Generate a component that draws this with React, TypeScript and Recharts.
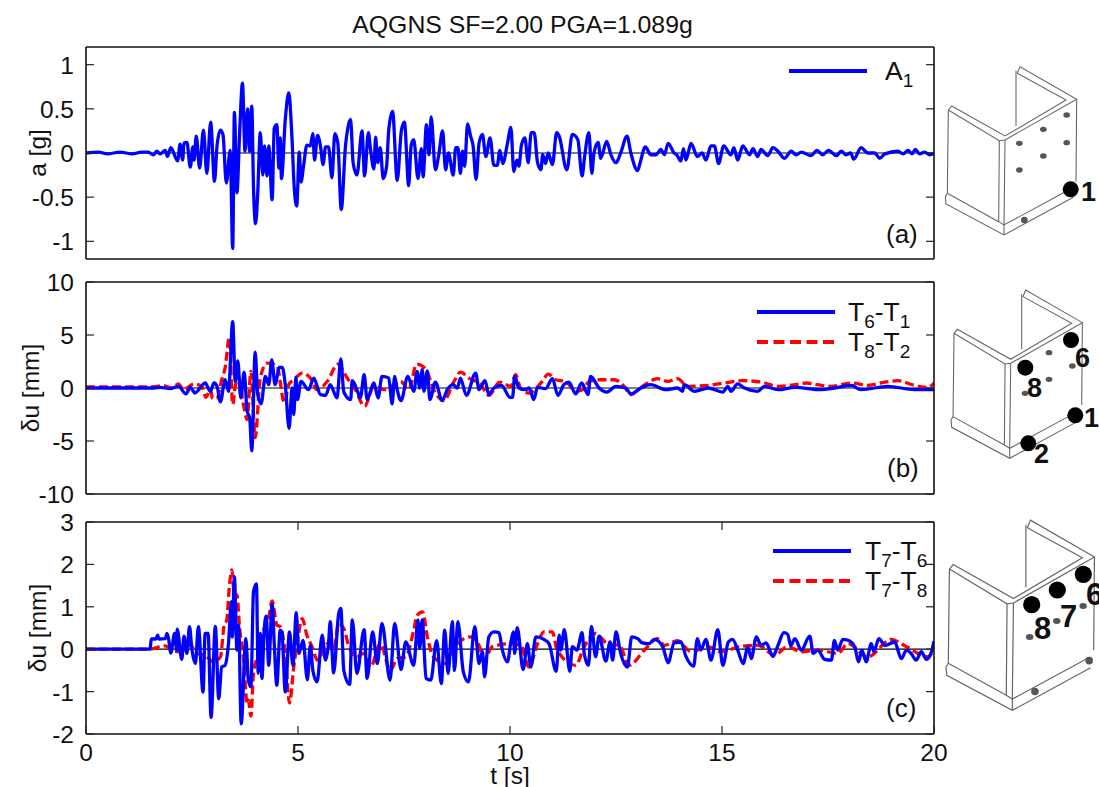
import React from "react";
import { LineChart, Line, XAxis, YAxis, ReferenceLine, Legend } from "recharts";

const timeA1 = [0,0.3,0.5,0.8,1.1,1.3,1.47,1.59,1.67,1.75,1.87,1.92,2.0,2.16,2.22,2.28,2.31,2.38,2.46,2.52,2.55,2.6,2.68,2.77,2.85,2.94,3.03,3.09,3.17,3.23,3.31,3.4,3.46,3.5,3.56,3.62,3.69,3.75,3.81,3.86,3.91,3.95,4.0,4.05,4.11,4.17,4.21,4.27,4.31,4.39,4.44,4.5,4.55,4.58,4.61,4.7,4.78,4.86,4.91,4.97,5.03,5.07,5.13,5.21,5.29,5.35,5.39,5.46,5.53,5.59,5.65,5.72,5.8,5.87,5.94,6.02,6.12,6.17,6.24,6.3,6.39,6.51,6.57,6.66,6.71,6.79,6.83,6.88,6.94,7.01,7.09,7.14,7.23,7.34,7.44,7.51,7.61,7.67,7.73,7.83,7.91,7.95,8.03,8.09,8.14,8.24,8.32,8.41,8.48,8.55,8.66,8.72,8.77,8.83,8.88,8.93,9.0,9.07,9.13,9.2,9.27,9.35,9.43,9.53,9.62,9.7,9.76,9.83,9.94,10.02,10.09,10.16,10.21,10.27,10.35,10.43,10.5,10.57,10.65,10.73,10.77,10.84,10.9,11.0,11.1,11.16,11.34,11.47,11.6,11.7,11.76,11.86,11.93,11.98,12.08,12.14,12.28,12.38,12.5,12.61,12.76,12.85,13.01,13.07,13.19,13.32,13.44,13.56,13.64,13.73,13.87,13.93,14.03,14.09,14.15,14.27,14.42,14.53,14.62,14.74,14.82,14.92,15.04,15.21,15.28,15.37,15.49,15.65,15.73,15.84,15.92,16.08,16.2,16.32,16.47,16.63,16.75,16.87,17.1,17.24,17.38,17.51,17.7,17.81,17.93,18.03,18.11,18.28,18.44,18.6,18.72,18.84,19.15,19.27,19.39,19.48,19.56,19.66,19.78,19.9,20];
const accelA1 = [0,0.01,-0.01,0.01,-0.01,0.01,0.01,-0.02,0.02,-0.01,0.03,-0.04,0.06,-0.09,0.1,-0.08,0.11,0.12,-0.16,0.07,-0.08,0.19,-0.17,0.26,-0.23,0.35,-0.32,0.08,0.26,0.21,-0.34,0.03,-1.08,0.46,-0.45,0.19,0.79,0.02,0.5,0.02,0.53,-0.38,-0.8,-0.45,0.23,-0.25,0.08,-0.26,0.08,-0.53,0.28,0.32,-0.17,0.17,-0.29,0.38,0.68,0.15,-0.38,-0.6,0.01,-0.33,-0.15,0.09,0.08,0.22,-0.08,0.2,0.08,-0.13,0.07,0.07,-0.28,0.22,0.11,-0.64,0.08,0.27,0.38,-0.11,-0.25,0.25,-0.26,0.23,0.04,-0.18,0.18,-0.11,0.06,-0.29,-0.15,0.26,0.47,-0.31,0.26,0.35,-0.37,0.09,0.15,-0.29,0.05,-0.27,0.32,-0.02,0.41,-0.19,-0.02,0.25,-0.19,0,-0.25,0.06,0.06,-0.23,0.02,-0.15,0.33,0.19,0.08,-0.3,0.11,0.21,-0.04,0.17,-0.14,-0.14,0.03,-0.12,0.11,0.29,-0.21,-0.08,-0.15,0.09,0.17,-0.11,0.23,0.23,-0.11,-0.19,-0.02,-0.12,0,-0.13,0.23,0.19,-0.19,0.21,0.15,-0.26,-0.04,0.23,-0.23,0,0.12,-0.06,0.13,-0.02,-0.11,0,0.19,0,-0.2,-0.11,0.07,-0.02,-0.02,0.04,-0.02,0.11,0,-0.02,-0.09,0.05,-0.08,0.11,-0.04,0,-0.08,0.08,0.08,-0.12,0.08,-0.02,0.06,-0.08,0.08,-0.02,0.05,-0.04,0.04,-0.03,0.06,0.02,-0.06,0.02,-0.02,0.01,-0.03,0.03,-0.02,0.03,-0.03,0.02,-0.02,0,-0.07,0.06,0,0,-0.06,-0.01,0.02,-0.01,0.03,-0.01,0.04,-0.01,0.01,-0.02,0];

const timeT6T1 = [0,1.6,1.75,1.98,2.18,2.36,2.46,2.57,2.69,2.81,2.93,3.02,3.09,3.17,3.28,3.36,3.46,3.52,3.58,3.65,3.73,3.8,3.86,3.91,3.99,4.05,4.13,4.23,4.31,4.38,4.46,4.56,4.63,4.7,4.79,4.86,4.9,4.95,4.99,5.07,5.25,5.37,5.53,5.65,5.76,5.92,6.01,6.08,6.24,6.28,6.39,6.47,6.56,6.63,6.79,6.89,6.98,7.14,7.22,7.28,7.34,7.43,7.59,7.73,7.81,7.87,7.93,7.97,8.05,8.11,8.24,8.4,8.52,8.66,8.76,8.83,8.97,9.19,9.27,9.41,9.5,9.62,9.8,10.0,10.06,10.11,10.21,10.37,10.45,10.56,10.65,10.84,11.0,11.13,11.27,11.39,11.55,11.69,11.84,11.9,12.1,12.28,12.5,12.73,12.85,13.09,13.32,13.68,13.95,14.07,14.11,14.35,14.67,15.02,15.14,15.21,15.37,15.53,15.84,16,16.32,16.72,17.34,17.65,18.05,18.28,18.91,19.54,20];
const duT6T1 = [0,0,0.06,-0.06,0.16,-0.56,0.06,-0.47,0,0.47,-0.31,0.47,0.16,-1.31,0.78,-0.31,6.25,0.62,2.56,-0.94,1.5,-2.19,-2.81,-5.94,3.38,-0.62,-1.5,1.09,0.31,2.66,0.31,1.94,1.94,0.31,-3.81,0,-2.5,1,-1.09,0.62,-0.16,0.94,-0.62,-0.69,0.31,-0.94,2.75,-0.38,-1.09,0.69,-0.16,-0.94,1.25,-1.09,0.47,-0.94,1.09,0.94,-1.5,1.09,-0.16,-1.19,1.09,-0.31,1.56,0,1.72,-0.31,1.62,-1.09,0.56,-1.19,-0.16,0.31,0,0.94,-0.69,1.41,-0.16,0.69,-0.62,0,0.25,-0.88,-0.88,1.09,0,-0.16,0,-1.09,0.06,-0.06,0.88,-0.69,0.31,0.56,-0.56,0.47,-0.62,1.09,0,-0.38,0.16,0,-0.56,0,0.31,-0.16,0,-0.31,0.31,-0.31,0,-0.38,0.16,-0.31,0.38,0,-0.31,0.16,-0.16,0.06,-0.16,0,0.25,-0.16,0.16,-0.16,-0.16];

const timeT8T2 = [0,1.5,1.83,2.02,2.18,2.3,2.54,2.73,2.83,2.93,2.99,3.09,3.2,3.28,3.38,3.46,3.52,3.6,3.72,3.8,3.89,3.99,4.11,4.27,4.5,4.68,4.78,4.9,5.1,5.29,5.45,5.69,5.94,6.16,6.35,6.57,6.79,7.03,7.42,7.61,7.8,8.01,8.2,8.44,8.68,8.83,9.03,9.31,9.5,9.76,10.02,10.13,10.25,10.45,10.76,10.9,11.08,11.31,11.55,11.71,11.87,12.14,12.46,12.69,12.84,13.09,13.48,13.72,13.95,14.19,14.67,15.06,15.49,15.92,16.32,16.72,17,17.26,17.58,18.05,18.44,18.84,19.15,19.54,19.86,20];
const duT8T2 = [0.1,0.1,0.22,0,0.38,-0.16,0.38,0.16,-0.88,-0.16,-1,-0.94,0.78,1.88,4.75,-1.56,0.16,0.94,-1.72,-2.97,1.56,-4.69,0.94,2.34,2.12,-1.41,0.31,0.78,1.41,0.94,-0.16,0.62,2.25,0.94,-0.16,-1.72,0.16,-0.16,0.62,-0.16,2.25,1.81,-0.16,-1.19,0.62,1.5,0.94,0.31,-0.69,0.56,0.16,1.25,0,-0.47,0.62,1.31,0.78,0.62,-0.31,-0.16,0.62,0.78,0.78,0.16,-0.62,0.06,0.88,0.62,0.88,0.16,0.25,0.47,0.69,0.56,0.16,0.31,0.47,0.31,0.16,0.47,0.25,0.56,0.69,0.25,0.06,0.47];

const timeT7T6 = [0,1.51,1.54,1.65,1.69,1.72,1.87,1.91,1.95,2.0,2.09,2.14,2.15,2.26,2.31,2.38,2.44,2.5,2.58,2.65,2.76,2.81,2.88,2.95,3.05,3.13,3.2,3.28,3.36,3.43,3.45,3.5,3.56,3.6,3.66,3.77,3.83,3.89,3.95,4.02,4.06,4.11,4.15,4.2,4.25,4.31,4.39,4.44,4.5,4.58,4.62,4.7,4.8,4.88,4.96,5.02,5.12,5.22,5.29,5.35,5.45,5.57,5.65,5.72,5.76,5.84,5.96,6.01,6.08,6.22,6.28,6.39,6.56,6.63,6.76,6.87,6.98,7.17,7.28,7.43,7.54,7.73,7.83,7.87,7.93,8.02,8.13,8.27,8.38,8.46,8.54,8.64,8.69,8.77,8.9,9.02,9.17,9.27,9.35,9.4,9.5,9.62,9.74,9.82,9.94,10.02,10.08,10.11,10.17,10.31,10.41,10.49,10.61,10.8,10.92,11.09,11.16,11.2,11.28,11.41,11.47,11.58,11.7,11.75,11.85,11.92,12.02,12.1,12.26,12.36,12.42,12.5,12.61,12.77,12.87,13.01,13.12,13.28,13.4,13.6,13.73,13.87,14.03,14.15,14.33,14.42,14.5,14.62,14.74,14.9,15.02,15.15,15.25,15.37,15.5,15.61,15.69,15.81,15.92,16.04,16.2,16.32,16.46,16.55,16.62,16.72,16.87,17.07,17.15,17.26,17.42,17.58,17.65,17.73,17.85,17.97,18.13,18.22,18.3,18.4,18.52,18.58,18.7,18.84,19.07,19.23,19.35,19.46,19.58,19.7,19.82,19.94,20];
const duT7T6 = [0,0,0.24,0.24,0.33,0.24,0.25,0.37,0.23,-0.09,0.37,-0.02,0.47,-0.24,0.31,-0.1,0.53,-0.02,-0.34,0.53,-1.01,0.37,0.37,-1.61,0.54,-1.17,-0.42,-0.38,0.13,1.12,0.29,1.71,-0.02,0.57,-1.76,0.25,-0.73,-0.89,1.35,1.54,-0.57,0.37,-0.69,0.41,0.78,-0.38,1.06,0.13,-0.85,0.45,0.41,-1.01,0.41,-0.38,0.86,-0.1,0.21,-0.72,0.09,-0.5,-0.77,0.33,-0.26,0.13,0.65,-0.56,0.84,0.96,-0.5,-0.83,0.69,-0.57,0.46,-0.69,0.41,-0.34,0.61,-0.73,0.61,-0.48,0.17,-0.38,0.69,0.02,0.69,-0.69,-0.73,0.2,-0.81,0.45,-0.57,0.65,-0.5,0.65,-0.54,-0.77,0.53,-0.34,-0.06,-0.65,0.29,0.41,0.39,-0.02,-0.3,0.17,0.41,-0.1,0.51,-0.48,0.13,-0.42,0.29,0.23,0.13,-0.52,0.33,-0.02,0.46,-0.52,0.06,-0.02,0.39,-0.1,-0.38,0.54,-0.18,0.31,-0.28,0.17,-0.26,0.41,-0.1,-0.42,0.29,0.25,0.15,0.13,0.23,0.06,-0.32,0.15,0.17,-0.17,-0.4,0.25,-0.02,0.23,-0.26,0.46,-0.38,0.17,0.23,-0.02,-0.34,0.06,-0.22,0.29,0.09,0.15,-0.17,0.09,0.39,0.35,0.09,0.25,-0.02,0.31,-0.1,-0.02,-0.24,-0.26,0.21,-0.02,0.23,0.21,0.06,-0.3,-0.02,-0.3,0.13,-0.06,0.25,0.09,0.17,-0.22,-0.02,-0.1,-0.26,-0.06,-0.24,-0.06,0.19];

const timeT7T8 = [0,1.51,1.67,1.87,2.02,2.22,2.46,2.61,2.81,3,3.17,3.26,3.32,3.38,3.44,3.5,3.56,3.62,3.72,3.8,3.83,3.89,3.95,4.03,4.19,4.31,4.39,4.5,4.58,4.7,4.8,4.9,4.98,5.1,5.21,5.33,5.46,5.69,5.84,5.96,6.08,6.2,6.39,6.55,6.71,6.94,7.18,7.34,7.54,7.73,7.81,7.94,8.05,8.2,8.48,8.76,9.07,9.27,9.39,9.58,10.02,10.25,10.45,10.65,10.8,11,11.11,11.55,11.75,12.02,12.3,12.58,12.81,13.17,13.48,13.64,13.95,14.27,14.66,14.98,15.45,15.85,16.24,16.55,16.87,17.26,17.73,17.97,18.44,18.99,19.35,19.86,20];
const duT7T8 = [0,0,0.04,0.08,-0.02,-0.06,0.09,-0.1,-0.14,-0.3,-0.18,0.57,0.69,1.47,1.87,1.24,1.28,0.53,-0.26,-1.28,-1.2,-1.58,-0.57,-0.22,0.45,0.76,1.14,0.57,0.53,-0.1,-1.27,-0.42,0.13,0.72,0.33,0.06,-0.26,0.13,-0.02,0.61,0.49,0.06,-0.18,-0.1,-0.42,0.13,-0.5,-0.22,-0.18,0.45,0.8,0.88,0.29,-0.18,-0.34,0.13,0.29,0.09,-0.26,0.06,0.13,0.09,-0.42,0.13,0.41,0.41,-0.02,-0.38,0.06,0.37,0.13,0.09,-0.38,-0.02,0.25,0.09,0.2,-0.06,0.06,-0.06,0.07,0.09,-0.14,0.06,-0.06,-0.02,-0.1,0.13,-0.18,0.23,0.06,-0.18,0.02];

const xTicks = [0, 5, 10, 15, 20];
const aTicks = [-1, -0.5, 0, 0.5, 1];
const bTicks = [-10, -5, 0, 5, 10];
const cTicks = [-2, -1, 0, 1, 2, 3];

const toRows = (t: number[], v: number[]) => t.map((tt, i) => ({ t: tt, v: v[i] }));

const FONT = '"Liberation Sans", Arial, sans-serif';
const BLUE = "#0000ff";
const RED = "#ff0000";
const AXIS_W = 1.6;
const TICK_LEN = 8;
const TICK_FS = 24.5;

const LeftTick = (p: any) => (
  <g>
    <line x1={p.x} x2={p.x + TICK_LEN} y1={p.y} y2={p.y} stroke="#222" strokeWidth={1.2} />
    <text x={p.x - 12} y={p.y + 9} textAnchor="end" fontSize={TICK_FS} fontFamily={FONT} fill="#111">
      {String(p.payload.value)}
    </text>
  </g>
);
const RightTick = (p: any) => (
  <line x1={p.x} x2={p.x - TICK_LEN} y1={p.y} y2={p.y} stroke="#222" strokeWidth={1.2} />
);
const BottomTick = (p: any) => (
  <g>
    <line x1={p.x} x2={p.x} y1={p.y} y2={p.y - TICK_LEN} stroke="#222" strokeWidth={1.2} />
    <text x={p.x} y={p.y + 27} textAnchor="middle" fontSize={TICK_FS} fontFamily={FONT} fill="#111">
      {String(p.payload.value)}
    </text>
  </g>
);
const TopTick = (p: any) => (
  <line x1={p.x} x2={p.x} y1={p.y} y2={p.y + TICK_LEN} stroke="#222" strokeWidth={1.2} />
);

type Entry = { color: string; dashed: boolean; label: React.ReactNode };
const Sub = ({ children }: { children: React.ReactNode }) => (
  <span style={{ fontSize: 19, position: "relative", top: 7 }}>{children}</span>
);

const makeLegend = (entries: Entry[], gap: number, lineW: number, textGap: number) => () => (
  <div style={{ fontFamily: FONT, fontSize: 26.5, color: "#111", lineHeight: "30px" }}>
    {entries.map((e, i) => (
      <div key={i} style={{ position: "absolute", top: i * gap, left: 0, whiteSpace: "nowrap", height: 30 }}>
        <svg width={lineW} height={30} style={{ position: "absolute", left: 0, top: 0 }}>
          <line
            x1={0}
            x2={lineW}
            y1={15}
            y2={15}
            stroke={e.color}
            strokeWidth={4}
            strokeDasharray={e.dashed ? "11 5.5" : undefined}
          />
        </svg>
        <span style={{ position: "absolute", left: lineW + textGap, top: 0 }}>{e.label}</span>
      </div>
    ))}
  </div>
);

type PanelProps = {
  top: number;
  height: number;
  domain: [number, number];
  yTicks: number[];
  yLabel: string;
  yLabelDx: number;
  showX?: boolean;
  series: { data: { t: number; v: number }[]; color: string; dashed?: boolean; name: string }[];
  legend: { entries: Entry[]; gap: number; left: number; top: number; lineW: number; textGap: number };
};

const Panel = ({ top, height, domain, yTicks, yLabel, yLabelDx, showX, series, legend }: PanelProps) => (
  <div style={{ position: "absolute", left: 0, top }}>
    <LineChart
      width={960}
      height={height}
      margin={{ top: 19, right: 25, bottom: showX ? 0 : 19, left: 0 }}
    >
      <XAxis
        xAxisId={0}
        dataKey="t"
        type="number"
        domain={[0, 20]}
        allowDataOverflow
        ticks={showX ? xTicks : []}
        interval={0}
        tick={showX ? BottomTick : false}
        tickLine={false}
        tickSize={0}
        tickMargin={0}
        height={showX ? 53 : 1}
        axisLine={{ stroke: "#111", strokeWidth: AXIS_W }}
        label={
          showX
            ? {
                value: "t [s]",
                position: "insideBottom",
                offset: 3,
                style: { fontFamily: FONT, fontSize: 24.5, fill: "#111" },
              }
            : undefined
        }
      />
      <XAxis
        xAxisId="top"
        orientation="top"
        dataKey="t"
        type="number"
        domain={[0, 20]}
        allowDataOverflow
        ticks={showX ? xTicks.slice(1, -1) : []}
        interval={0}
        tick={showX ? TopTick : false}
        tickLine={false}
        tickSize={0}
        tickMargin={0}
        height={1}
        axisLine={{ stroke: "#111", strokeWidth: AXIS_W }}
      />
      <YAxis
        yAxisId={0}
        type="number"
        domain={domain}
        allowDataOverflow
        ticks={yTicks}
        interval={0}
        width={86}
        tick={LeftTick}
        tickLine={false}
        tickSize={0}
        tickMargin={0}
        axisLine={{ stroke: "#111", strokeWidth: AXIS_W }}
        label={{
          value: yLabel,
          angle: -90,
          position: "insideLeft",
          offset: 0,
          dx: yLabelDx,
          style: { fontFamily: FONT, fontSize: 24.5, fill: "#111", textAnchor: "middle" },
        }}
      />
      <YAxis
        yAxisId="right"
        orientation="right"
        type="number"
        domain={domain}
        allowDataOverflow
        ticks={yTicks}
        interval={0}
        width={1}
        tick={RightTick}
        tickLine={false}
        tickSize={0}
        tickMargin={0}
        axisLine={{ stroke: "#111", strokeWidth: AXIS_W }}
      />
      <ReferenceLine y={0} yAxisId={0} xAxisId={0} stroke="#000" strokeWidth={1.2} />
      {series.map((s) => (
        <Line
          key={s.name}
          name={s.name}
          data={s.data}
          dataKey="v"
          xAxisId={0}
          yAxisId={0}
          type="monotone"
          stroke={s.color}
          strokeWidth={3.3}
          strokeDasharray={s.dashed ? "9 4" : undefined}
          strokeLinejoin="round"
          dot={false}
          activeDot={false}
          isAnimationActive={false}
        />
      ))}
      <Legend
        layout="horizontal"
        verticalAlign="middle"
        align="center"
        content={makeLegend(legend.entries, legend.gap, legend.lineW, legend.textGap)}
        wrapperStyle={{ position: "absolute", left: legend.left, top: legend.top, width: 180, height: 60 }}
      />
    </LineChart>
  </div>
);

const FACE_BOLTS: [number, number][] = [
  [380, 195], [310, 238], [238, 280], [380, 278], [310, 318], [238, 360],
];

const Schematic = ({ x, y, s, face, base }: { x: number; y: number; s: number; face: number[]; base: [number, number][] }) => {
  const st = { fill: "none", stroke: "#666", strokeWidth: 3.2 };
  return (
    <g transform={`translate(${x},${y}) scale(${s})`}>
      <polyline {...st} points="25,180 35,168 195,258 378,150 232,70 240,50 410,148 195,270 178,272 25,180" />
      <line {...st} x1={228} y1={62} x2={228} y2={228} />
      <line {...st} x1={25} y1={180} x2={22} y2={430} />
      <line {...st} x1={178} y1={272} x2={176} y2={515} />
      <line {...st} x1={195} y1={270} x2={192} y2={525} />
      <line {...st} x1={410} y1={148} x2={408} y2={395} />
      <polyline {...st} points="22,430 16,440 18,462 192,555 400,442" />
      <polyline {...st} points="22,430 176,515 192,525 390,418" />
      <line {...st} x1={192} y1={525} x2={192} y2={555} />
      {base.map(([bx, by], i) => (
        <ellipse key={i} cx={bx} cy={by} rx={10} ry={10} fill="#555" />
      ))}
      {face.map((k) => (
        <ellipse key={k} cx={FACE_BOLTS[k][0]} cy={FACE_BOLTS[k][1]} rx={10} ry={8} fill="#555" />
      ))}
    </g>
  );
};

const Dot = ({ cx, cy, r = 8 }: { cx: number; cy: number; r?: number }) => (
  <circle cx={cx} cy={cy} r={r} fill="#000" />
);
const Num = ({ x, y, fs = 27, children }: { x: number; y: number; fs?: number; children: string }) => (
  <text x={x} y={y} fontFamily={FONT} fontWeight="bold" fontSize={fs} fill="#111">
    {children}
  </text>
);

export default function App() {
  return (
    <div style={{ position: "absolute", left: 0, top: 0, width: 1099, height: 787, overflow: "hidden", background: "#fff" }}>
      <Panel
        top={27}
        height={252}
        domain={[-1.2, 1.2]}
        yTicks={aTicks}
        yLabel="a [g]"
        yLabelDx={37}
        series={[{ name: "A1", data: toRows(timeA1, accelA1), color: BLUE }]}
        legend={{
          left: 789,
          top: 29,
          lineW: 78,
          textGap: 18,
          gap: 30,
          entries: [{ color: BLUE, dashed: false, label: <>A<Sub>1</Sub></> }],
        }}
      />
      <Panel
        top={262}
        height={252}
        domain={[-10, 10]}
        yTicks={bTicks}
        yLabel="δu [mm]"
        yLabelDx={30}
        series={[
          { name: "T8-T2", data: toRows(timeT8T2, duT8T2), color: RED, dashed: true },
          { name: "T6-T1", data: toRows(timeT6T1, duT6T1), color: BLUE },
        ]}
        legend={{
          left: 757,
          top: 35,
          lineW: 78,
          textGap: 13,
          gap: 30,
          entries: [
            { color: BLUE, dashed: false, label: <>T<Sub>6</Sub>-T<Sub>1</Sub></> },
            { color: RED, dashed: true, label: <>T<Sub>8</Sub>-T<Sub>2</Sub></> },
          ],
        }}
      />
      <Panel
        top={502}
        height={285}
        domain={[-2, 3]}
        yTicks={cTicks}
        yLabel="δu [mm]"
        yLabelDx={37}
        showX
        series={[
          { name: "T7-T8", data: toRows(timeT7T8, duT7T8), color: RED, dashed: true },
          { name: "T7-T6", data: toRows(timeT7T6, duT7T6), color: BLUE },
        ]}
        legend={{
          left: 773,
          top: 34,
          lineW: 78,
          textGap: 14,
          gap: 30,
          entries: [
            { color: BLUE, dashed: false, label: <>T<Sub>7</Sub>-T<Sub>6</Sub></> },
            { color: RED, dashed: true, label: <>T<Sub>7</Sub>-T<Sub>8</Sub></> },
          ],
        }}
      />
      <svg width={1099} height={787} style={{ position: "absolute", left: 0, top: 0, pointerEvents: "none" }}>
        <text x={522.5} y={33} textAnchor="middle" fontFamily={FONT} fontSize={24.8} fill="#111">
          AQGNS SF=2.00 PGA=1.089g
        </text>
        <text x={886} y={243} fontFamily={FONT} fontSize={26} fill="#111">(a)</text>
        <text x={887} y={477} fontFamily={FONT} fontSize={26} fill="#111">(b)</text>
        <text x={886} y={717} fontFamily={FONT} fontSize={26} fill="#111">(c)</text>

        <Schematic x={940} y={50} s={1 / 3} face={[0, 1, 2, 3, 4, 5]} base={[[253, 510]]} />
        <Dot cx={1070.7} cy={189.3} />
        <Num x={1081} y={201}>1</Num>

        <Schematic x={945.7} y={273.3} s={1 / 3} face={[1, 3, 4, 5]} base={[]} />
        <Dot cx={1071} cy={340} />
        <Dot cx={1025.3} cy={367.7} />
        <Dot cx={1075.3} cy={415.3} />
        <Dot cx={1028.3} cy={443.3} />
        <Num x={1075} y={367}>6</Num>
        <Num x={1027} y={397}>8</Num>
        <Num x={1084} y={427}>1</Num>
        <Num x={1034} y={463}>2</Num>

        <Schematic x={940} y={501.3} s={1.13 / 3} face={[3, 4, 5]} base={[[252, 505], [396, 423]]} />
        <Dot cx={1083.3} cy={574.3} r={8.6} />
        <Dot cx={1057.3} cy={590} r={8.6} />
        <Dot cx={1031.7} cy={604.7} r={8.6} />
        <Num x={1086} y={605} fs={31}>6</Num>
        <Num x={1060} y={627} fs={31}>7</Num>
        <Num x={1034} y={639} fs={31}>8</Num>
      </svg>
    </div>
  );
}
